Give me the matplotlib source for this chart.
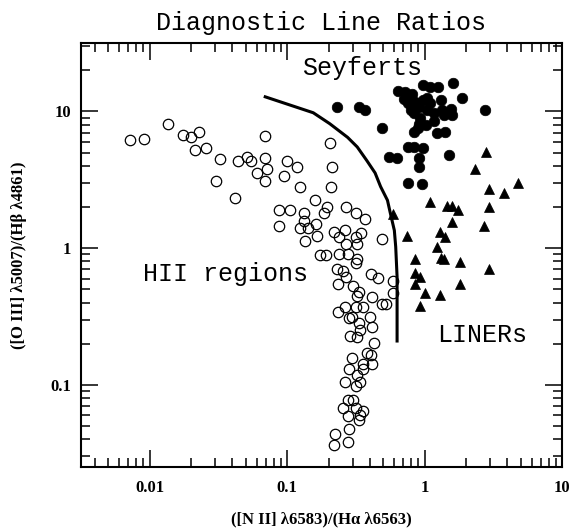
import numpy as np
import matplotlib
matplotlib.use("Agg")
import matplotlib.pyplot as plt
from matplotlib.ticker import LogLocator, NullFormatter

#%% line ratios (log10 values)
hii_log_nii = [-2.14, -2.04, -1.87, -1.76, -1.70, -1.64, -1.67, -1.59, -1.49, -1.52,
               -1.38, -1.36, -1.29, -1.26, -1.22, -1.16, -1.15, -1.16, -1.16, -1.02,
               -1.00, -0.93, -0.91, -0.80, -1.06, -0.98, -0.88, -1.06, -0.91, -0.88,
               -0.85, -0.87, -0.79, -0.78, -0.76, -0.69, -0.67, -0.68, -0.71, -0.73,
               -0.57, -0.50, -0.43, -0.66, -0.58, -0.62, -0.50, -0.46, -0.31, -0.57,
               -0.49, -0.72, -0.62, -0.56, -0.49, -0.50, -0.64, -0.59, -0.57, -0.63,
               -0.39, -0.34, -0.23, -0.23, -0.52, -0.48, -0.49, -0.38, -0.31, -0.28,
               -0.58, -0.50, -0.45, -0.63, -0.53, -0.40, -0.48, -0.38, -0.47, -0.54,
               -0.49, -0.37, -0.42, -0.39, -0.38, -0.53, -0.55, -0.45, -0.45, -0.58,
               -0.47, -0.50, -0.56, -0.52, -0.59, -0.50, -0.45, -0.47, -0.56, -0.55,
               -0.65, -0.66, -0.56, -0.55, -0.49, -0.48]
hii_log_oiii = [0.79, 0.80, 0.91, 0.83, 0.81, 0.85, 0.72, 0.73, 0.65, 0.49,
                0.37, 0.64, 0.67, 0.64, 0.55, 0.66, 0.58, 0.49, 0.82, 0.53,
                0.64, 0.59, 0.45, 0.35, 0.28, 0.28, 0.26, 0.16, 0.15, 0.20,
                0.15, 0.05, 0.18, 0.09, -0.05, 0.77, 0.59, 0.45, 0.30, 0.26,
                0.30, 0.26, 0.21, 0.12, 0.13, 0.08, 0.08, 0.11, 0.07, 0.03,
                0.03, -0.05, -0.04, -0.04, -0.08, -0.11, -0.15, -0.17, -0.21, -0.26,
                -0.19, -0.22, -0.24, -0.33, -0.28, -0.32, -0.35, -0.36, -0.41, -0.41,
                -0.43, -0.43, -0.43, -0.47, -0.50, -0.50, -0.55, -0.58, -0.60, -0.64,
                -0.65, -0.69, -0.77, -0.78, -0.85, -0.80, -0.88, -0.88, -0.85, -0.98,
                -0.98, -1.01, -1.11, -1.11, -1.17, -1.17, -1.19, -1.22, -1.23, -1.32,
                -1.36, -1.44, -1.42, -0.51, -0.93, -1.26]

sey_log_nii = [-0.19, -0.15, -0.09, -0.01, 0.04, 0.10, 0.21, 0.27, -0.12, -0.07,
               -0.01, 0.04, -0.04, -0.10, -0.08, 0.02, 0.07, 0.14, 0.19, 0.20,
               0.13, 0.44, -0.03, -0.04, -0.05, -0.08, -0.31, 0.09, 0.15, -0.12,
               -0.08, -0.01, 0.18, -0.26, -0.20, -0.04, -0.04, -0.12, -0.02, -0.64,
               -0.48, -0.43, -0.14, 0.02, 0.12, 0.07, 0.01]
sey_log_oiii = [1.15, 1.09, 1.13, 1.19, 1.18, 1.18, 1.21, 1.10, 1.06, 1.07,
                1.08, 1.06, 1.03, 1.01, 0.99, 1.01, 0.99, 0.97, 1.02, 0.97,
                1.01, 1.01, 0.95, 0.91, 0.88, 0.85, 0.88, 0.84, 0.85, 0.74,
                0.74, 0.73, 0.68, 0.67, 0.66, 0.66, 0.59, 0.48, 0.47, 1.03,
                1.03, 1.01, 1.14, 1.10, 1.08, 0.93, 0.90]

liner_log_nii = [-0.23, -0.13, -0.07, -0.07, -0.03, -0.07, 0.00, -0.03, 0.04, 0.09,
                 0.11, 0.15, 0.12, 0.14, 0.11, 0.16, 0.20, 0.24, 0.20, 0.26,
                 0.26, 0.37, 0.45, 0.47, 0.47, 0.43, 0.47, 0.58, 0.68]
liner_log_oiii = [0.25, 0.09, -0.08, -0.18, -0.21, -0.26, -0.33, -0.42, 0.34, 0.01,
                  0.12, 0.08, -0.07, -0.08, -0.34, 0.31, 0.31, 0.28, 0.19, -0.10,
                  -0.26, 0.58, 0.70, 0.43, 0.30, 0.16, -0.15, 0.40, 0.48]

# dividing line, traced by eye
curve_log_nii = [-1.17, -1.05, -0.93, -0.81, -0.69, -0.56, -0.49, -0.42, -0.36, -0.32,
                 -0.27, -0.25, -0.22, -0.21, -0.20, -0.20, -0.20]
curve_log_oiii = [1.11, 1.07, 1.03, 0.99, 0.91, 0.81, 0.74, 0.64, 0.55, 0.45,
                  0.35, 0.26, 0.13, 0.01, -0.21, -0.45, -0.69]

xticks = [0.01, 0.1, 1, 10]
xtick_labels = ["0.01", "0.1", "1", "10"]
yticks = [0.1, 1, 10]
ytick_labels = ["0.1", "1", "10"]

mono = "Liberation Mono"
serif = "Liberation Serif"

#%%
fig = plt.figure(figsize=(5.7, 5.28), dpi=100)
ax = fig.add_axes([81 / 570, 1 - 467 / 528, 481 / 570, 424 / 528])

ax.plot(10 ** np.array(curve_log_nii), 10 ** np.array(curve_log_oiii),
        color="black", lw=2.2, solid_capstyle="butt", zorder=2)
ax.plot(10 ** np.array(hii_log_nii), 10 ** np.array(hii_log_oiii), ls="none",
        marker="o", ms=7.5, mfc="none", mec="black", mew=0.9, zorder=3)
ax.plot(10 ** np.array(sey_log_nii), 10 ** np.array(sey_log_oiii), ls="none",
        marker="o", ms=7.6, mfc="black", mec="black", mew=0.5, zorder=3)
ax.plot(10 ** np.array(liner_log_nii), 10 ** np.array(liner_log_oiii), ls="none",
        marker="^", ms=6.5, mfc="black", mec="black", mew=0.5, zorder=3)

ax.set_xscale("log")
ax.set_yscale("log")
ax.set_xlim(10 ** -2.5, 10)
ax.set_ylim(10 ** -1.6, 10 ** 1.5)

ax.set_xticks(xticks, xtick_labels)
ax.set_yticks(yticks, ytick_labels)
for axis in (ax.xaxis, ax.yaxis):
    axis.set_minor_locator(LogLocator(base=10, subs=np.arange(2, 10)))
    axis.set_minor_formatter(NullFormatter())
ax.tick_params(which="both", direction="in", top=True, right=True, width=1.1)
ax.tick_params(which="major", length=12.5)
ax.tick_params(which="minor", length=6.5)
ax.tick_params(axis="x", pad=9)
ax.tick_params(axis="y", pad=7)
for lbl in ax.get_xticklabels() + ax.get_yticklabels():
    lbl.set_fontfamily(serif)
    lbl.set_fontweight("bold")
    lbl.set_fontsize(12)
for sp in ax.spines.values():
    sp.set_linewidth(1.5)

ax.set_xlabel("([N II] \u03bb6583)/(H\u03b1 \u03bb6563)", family=serif,
              weight="bold", fontsize=12)
ax.set_ylabel("([O III] \u03bb5007)/(H\u03b2 \u03bb4861)", family=serif,
              weight="bold", fontsize=12)
ax.xaxis.set_label_coords(0.5, -0.105)
ax.yaxis.set_label_coords(-0.112, 0.5)

fig.text(321 / 570, 1 - 30 / 528, "Diagnostic Line Ratios", family=mono,
         fontsize=18, ha="center", va="baseline")
# region names, placed by pixel position in the original figure
for txt, px, py in [("Seyferts", 302, 75), ("HII regions", 143, 281),
                    ("LINERs", 437, 342)]:
    ax.text((px - 81) / 481, (467 - py) / 424, txt, family=mono, fontsize=18,
            ha="left", va="baseline", transform=ax.transAxes)

fig.savefig("out.png", dpi=100)
